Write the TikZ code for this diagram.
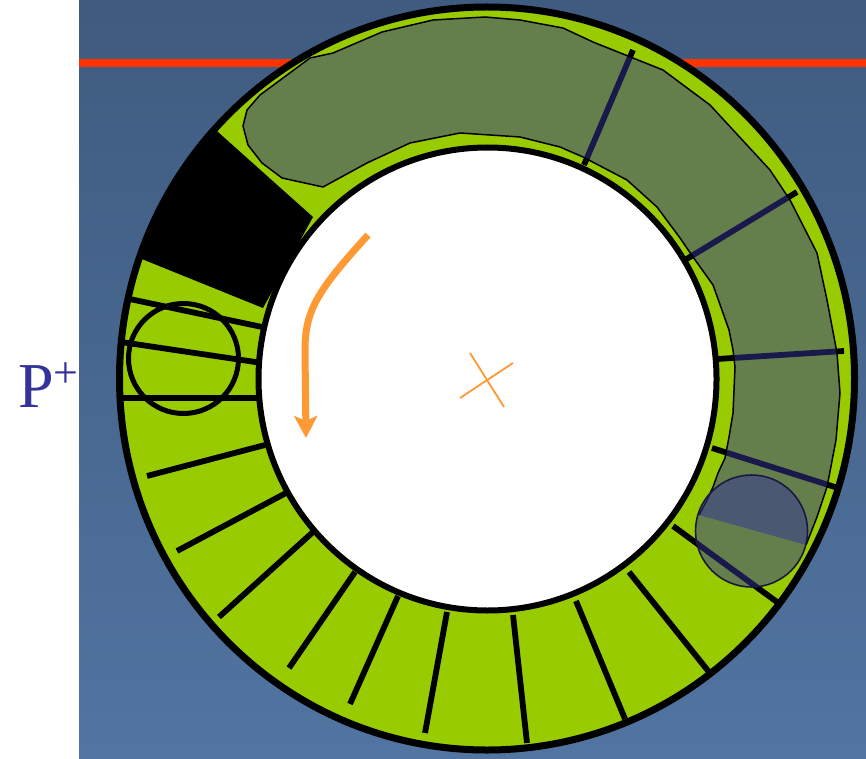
\documentclass[tikz,border=0pt]{standalone}
\usepackage{fontspec}
\setmainfont{Liberation Serif}
\usetikzlibrary{arrows.meta}
\definecolor{ringgreen}{HTML}{99CC00}
\definecolor{bgtop}{HTML}{3F5B7F}
\definecolor{bgbot}{HTML}{5174A1}
\definecolor{redline}{HTML}{FF3300}
\definecolor{pnavy}{HTML}{333399}
\definecolor{orng}{HTML}{FF9933}
\definecolor{rimnavy}{HTML}{1A1A40}
\begin{document}
\begin{tikzpicture}[x=1pt,y=-1pt,
  spoke/.style={line width=5.8pt},
  shadefill/.style={fill=pnavy, fill opacity=0.5},
  orangeline/.style={draw=orng}]
\useasboundingbox (0,0) rectangle (866,759);
\fill[white] (0,0) rectangle (866,759);
\shade[top color=bgtop, bottom color=bgbot] (79,0) rectangle (866,759);
% red line
\draw[redline, line width=7.5pt] (79,63) -- (866,63);
% ring
\coordinate (rc) at (487,378.5);
\coordinate (ic) at (487.5,379);
\fill[ringgreen] (rc) ellipse [x radius=367.5pt, y radius=371.5pt];
\begin{scope}
  \clip (rc) ellipse [x radius=367.5pt, y radius=371.5pt];
  \fill[black] (313,217) -- (114,39) -- (75,232) -- (263,308) -- cycle;
  \draw[spoke] (125,298) -- (262,327);
  \draw[spoke] (121,342) -- (262,363);
  \draw[spoke] (119,398) -- (260,398);
  \draw[spoke] (147,476) -- (265,445);
  \draw[spoke] (177,551) -- (286,493);
  \draw[spoke] (219,617) -- (313,532);
  \draw[spoke] (289,668) -- (355,572);
  \draw[spoke] (350,704) -- (398,596);
  \draw[spoke] (425,733) -- (447,612);
  \draw[spoke] (527,743) -- (513,615);
  \draw[spoke] (625,719) -- (576,601);
  \draw[spoke] (713,677) -- (629,572);
  \draw[spoke] (673,526) -- (777,602);
  \draw[spoke] (712,448) -- (838,488);
  \draw[spoke] (717,359) -- (844,351);
  \draw[spoke] (685,260) -- (797,192);
  \draw[spoke] (584,165) -- (633,50);
\end{scope}
\filldraw[fill=white, draw=black, line width=6pt] (ic) ellipse [x radius=229pt, y radius=231.5pt];
\draw[black, line width=7pt] (rc) ellipse [x radius=367.5pt, y radius=371.5pt];
% left circle
\draw[black, line width=5pt] (183.5,358.5) circle [radius=55pt];
% olive overlay blob
\fill[shadefill] (699,515) -- (707,500) -- (713,487) -- (718,473) -- (725,458) -- (729,437) -- (733,413) -- (735,367) -- (733,350) -- (729,330) -- (723,313) -- (713,285) -- (693,257) -- (680,238) -- (657,207) -- (627,180) -- (583,157) -- (560,147) -- (520,137) -- (460,133) -- (410,143) -- (367,163) -- (323,187) -- (282,178) -- (262,163) -- (248,145) -- (243,126) -- (247,110) -- (260,95) -- (310,58) -- (333,53) -- (382,32) -- (433,20) -- (485,17) -- (520,20) -- (563,28) -- (593,42) -- (663,70) -- (710,105) -- (770,170) -- (790,200) -- (817,253) -- (827,300) -- (837,353) -- (840,393) -- (836,440) -- (827,487) -- (817,517) -- (806,545) -- cycle;
\draw[black, line width=1.5pt, line join=round] (699,515) -- (707,500) -- (713,487) -- (718,473) -- (725,458) -- (729,437) -- (733,413) -- (735,367) -- (733,350) -- (729,330) -- (723,313) -- (713,285) -- (693,257) -- (680,238) -- (657,207) -- (627,180) -- (583,157) -- (560,147) -- (520,137) -- (460,133) -- (410,143) -- (367,163) -- (323,187) -- (282,178) -- (262,163) -- (248,145) -- (243,126) -- (247,110) -- (260,95) -- (310,58) -- (333,53) -- (382,32) -- (433,20) -- (485,17) -- (520,20) -- (563,28) -- (593,42) -- (663,70) -- (710,105) -- (770,170) -- (790,200) -- (817,253) -- (827,300) -- (837,353) -- (840,393) -- (836,440) -- (827,487) -- (817,517) -- (806,545);
% right circle overlay
\filldraw[shadefill, draw=rimnavy, line width=1.6pt] (751.5,531) circle [radius=56pt];
% orange arrow and cross
\draw[orangeline, line width=7pt, -{Stealth[length=22pt,width=23pt,inset=5pt]}]
  (368,235) .. controls (318,290) and (305,310) .. (305,350) -- (306,438);
\draw[orangeline, line width=1.8pt] (470,353) -- (504,407);
\draw[orangeline, line width=1.8pt] (460,398) -- (513,363);
% label
\node[anchor=base west, inner sep=0pt, text=pnavy, font=\fontsize{64}{64}\selectfont] (plabel) at (18,407) {P\raisebox{20pt}{\fontsize{44}{44}\selectfont +}};
\end{tikzpicture}
\end{document}
